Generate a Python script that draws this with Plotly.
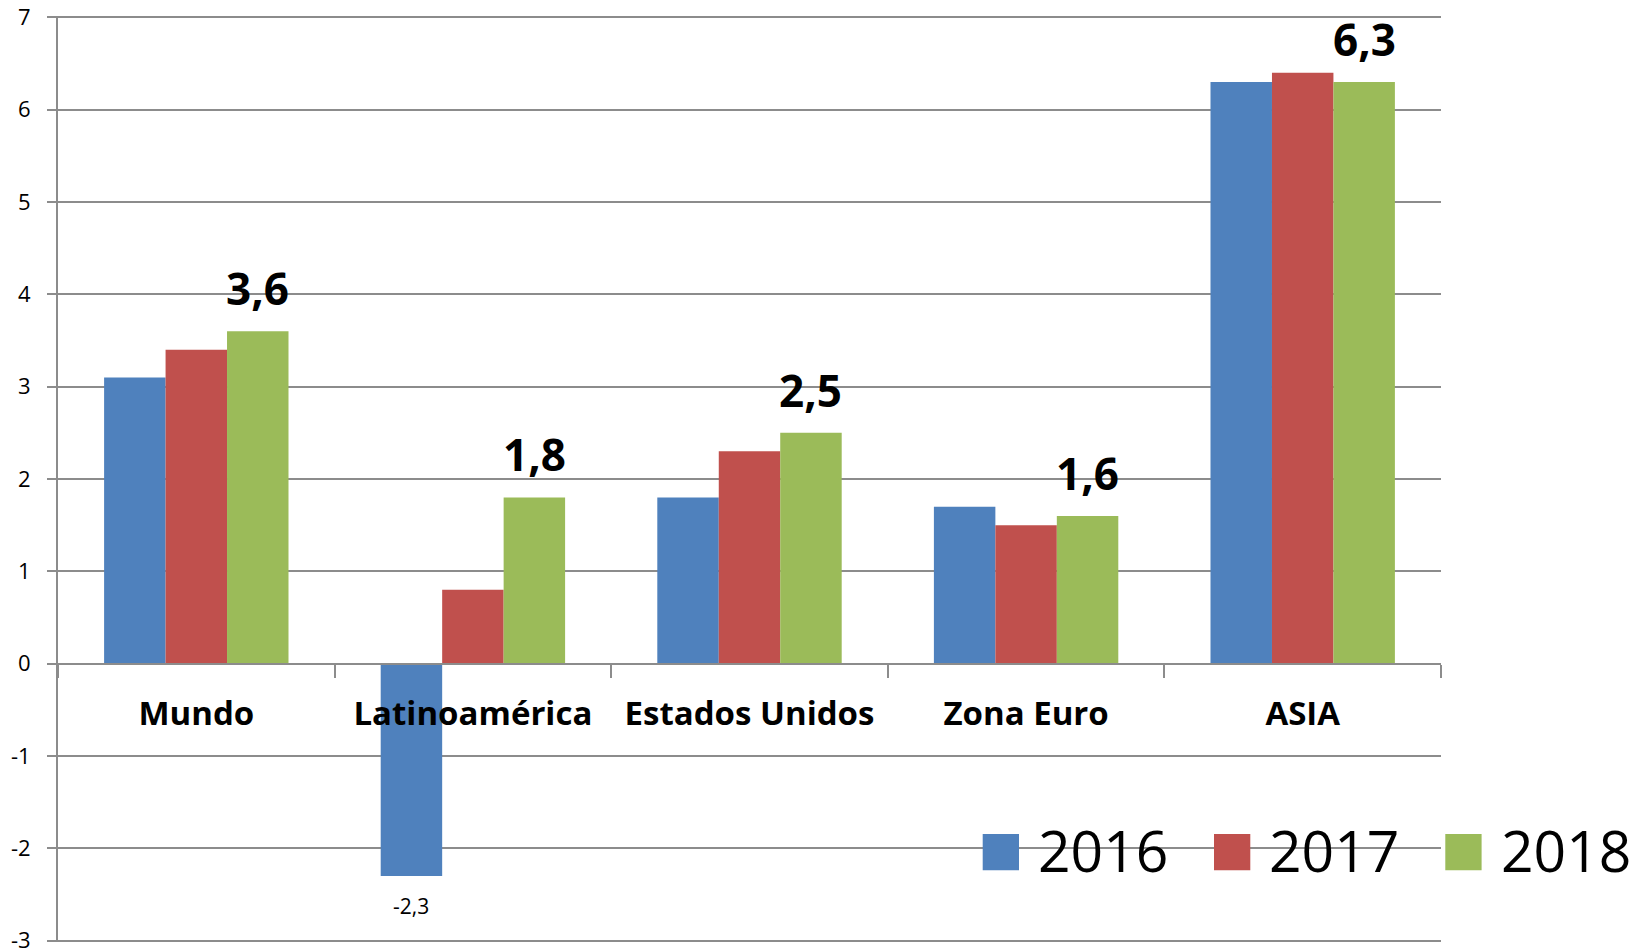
import plotly.graph_objects as go

# ---- data ----
categories = ["Mundo", "Latinoamérica", "Estados Unidos", "Zona Euro", "ASIA"]
series_names = ["2016", "2017", "2018"]
values_2016 = [3.1, -2.3, 1.8, 1.7, 6.3]
values_2017 = [3.4, 0.8, 2.3, 1.5, 6.4]
values_2018 = [3.6, 1.8, 2.5, 1.6, 6.3]
y_ticks = [-3, -2, -1, 0, 1, 2, 3, 4, 5, 6, 7]

series_values = [values_2016, values_2017, values_2018]
colors = ["#4F81BD", "#C0504D", "#9BBB59"]

W, H = 1642, 951
PAD = 0.016  # small range padding so the end gridlines are drawn
ML, MR, MT, MB = 58, 201, 15.5, 9.2
PW, PH = W - ML - MR, H - MT - MB
GRID = "#8c8c8c"
FONT = "Open Sans"
BARGAP = 1 - 184.4 / 276.6


def fmt(v):
    return f"{v:.1f}".replace(".", ",")


def px_x(p):  # page pixel -> paper
    return (p - ML) / PW


def px_y(p):
    return (H - MB - p) / PH


fig = go.Figure()
for name, vals, col in zip(series_names, series_values, colors):
    fig.add_trace(go.Bar(
        x=categories, y=vals, name=name,
        marker=dict(color=col, line=dict(width=0)),
        showlegend=False,
    ))

annotations = []
n = len(series_names)
slot = (1 - BARGAP) / n
# big bold labels for the last series, small labels for negative values
for k, vals in enumerate(series_values):
    off = (k - (n - 1) / 2) * slot
    for i, v in enumerate(vals):
        if k == n - 1:
            annotations.append(dict(
                x=i + off, y=v, xref="x", yref="y", text=fmt(v), showarrow=False,
                yanchor="middle", yshift=43,
                font=dict(family=FONT, size=44, color="black", weight="bold"),
            ))
        elif v < 0:
            annotations.append(dict(
                x=i + off, y=v, xref="x", yref="y", text=fmt(v), showarrow=False,
                yanchor="middle", yshift=-30,
                font=dict(family=FONT, size=21, color="black"),
            ))

# custom legend (large squares)
shapes = []
sq = 36.3
leg_x0 = 982.7
pitch = 231.3
leg_cy = 852
for k, (name, col) in enumerate(zip(series_names, colors)):
    x0 = leg_x0 + k * pitch
    shapes.append(dict(
        type="rect", xref="paper", yref="paper",
        x0=px_x(x0), x1=px_x(x0 + sq), y0=px_y(leg_cy + sq / 2), y1=px_y(leg_cy - sq / 2),
        fillcolor=col, line=dict(width=0), layer="above",
    ))
    annotations.append(dict(
        x=px_x(x0 + sq + 17), y=px_y(leg_cy - 2), xref="paper", yref="paper",
        xanchor="left", yanchor="middle", text=name, showarrow=False,
        font=dict(family=FONT, size=57, color="black"),
    ))

ymin, ymax = y_ticks[0] - PAD, y_ticks[-1] + PAD
fig.update_layout(
    width=W, height=H,
    margin=dict(l=ML, r=MR, t=MT, b=MB, autoexpand=False),
    paper_bgcolor="white", plot_bgcolor="white",
    barmode="group", bargap=BARGAP, bargroupgap=0,
    showlegend=False,
    annotations=annotations, shapes=shapes,
    xaxis=dict(
        anchor="free", position=(0 - ymin) / (ymax - ymin),
        automargin=False,
        showline=True, linecolor=GRID, linewidth=2,
        showgrid=False, zeroline=False,
        ticks="outside", tickson="boundaries", ticklen=13, tickwidth=2, tickcolor=GRID,
        tickfont=dict(family=FONT, size=33, color="black", weight="bold"),
        ticklabelstandoff=21,
    ),
    yaxis=dict(
        range=[ymin, ymax], tickvals=y_ticks, ticktext=[str(t) for t in y_ticks],
        automargin=False, ticklabeloverflow="allow",
        showline=True, linecolor=GRID, linewidth=2,
        showgrid=True, gridcolor=GRID, gridwidth=2, zeroline=False,
        ticks="outside", ticklen=9, tickwidth=2, tickcolor=GRID,
        tickfont=dict(family=FONT, size=22, color="black"),
        ticklabelstandoff=12,
    ),
)

fig.write_html(
    "out.html",
    config={"displayModeBar": False},
    post_script="document.body.style.margin='0';document.body.style.overflow='hidden';",
)
